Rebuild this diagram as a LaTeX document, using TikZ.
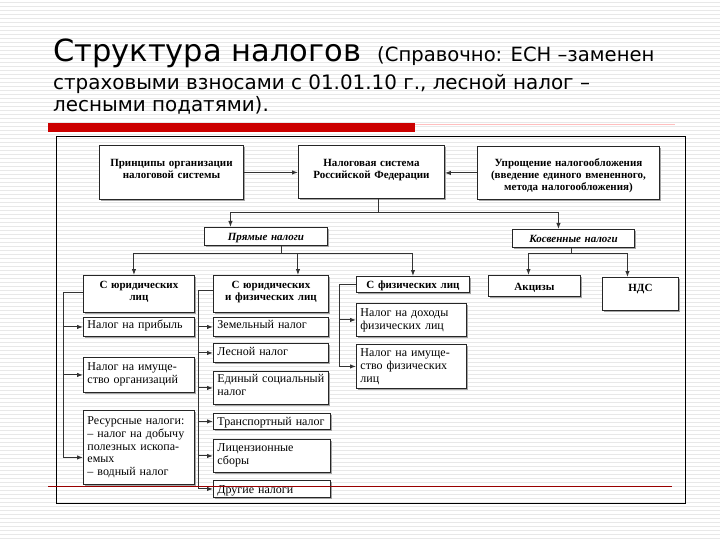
\documentclass[tikz,border=0pt]{standalone}
\usepackage{fontspec}
\setmainfont{Liberation Serif}
\newfontfamily\headfont{DejaVu Sans}
\usetikzlibrary{shadows,arrows.meta}

\begin{document}
\begin{tikzpicture}[x=1pt, y=-1pt, >={Latex[length=6pt,width=4.5pt]},
    stripe/.style={draw=black!9, line width=0.6pt},
    cell/.style={draw=black!85, line width=0.9pt, fill=white, anchor=north west,
      inner xsep=4pt, inner ysep=2pt,
      drop shadow={shadow xshift=1.3pt, shadow yshift=-1.3pt, fill=black!35, opacity=1}},
    head/.style={cell, align=center, font=\fontsize{11}{12}\selectfont\bfseries},
    leaf/.style={cell, align=left, font=\fontsize{12}{12.8}\selectfont},
    link/.style={draw=black!80, line width=1pt}]

    % ==== SLIDE ====
    \useasboundingbox (0,0) rectangle (720,540);
    \fill[white] (0,0) rectangle (720,540);
    \foreach \y in {2,6,...,538} \draw[stripe] (0,\y) -- (720,\y);

    % ==== TITLE ====
    \node[anchor=base west, inner sep=0, font=\headfont\fontsize{30.5}{30.5}\selectfont] (title) at (53,62) {Структура налогов};
    \node[anchor=base west, inner sep=0, font=\headfont\fontsize{19.6}{19.6}\selectfont] (note) at (377,62) {(Справочно: ЕСН –заменен};
    \node[anchor=base west, inner sep=0, font=\headfont\fontsize{19.9}{19.9}\selectfont] (note2) at (53,90) {страховыми взносами с 01.01.10 г., лесной налог –};
    \node[anchor=base west, inner sep=0, font=\headfont\fontsize{19.9}{19.9}\selectfont] (note3) at (53,112) {лесными податями).};
    \fill[red!80!black] (48,123) rectangle (415,132);
    \draw[red!25, line width=0.8pt] (415,124.5) -- (675,124.5);

    % ==== FRAME ====
    \draw[black, line width=1pt] (56,137) rectangle (685,503);

    % ==== TOP ROW ====
    \node[head, text width=136pt, text height=19pt, text depth=31pt] (prin) at (99,145) {Принципы организации\\налоговой системы};
    \node[head, text width=138pt, text height=19pt, text depth=30pt] (nalsys) at (298,145) {Налоговая система\\Российской Федерации};
    \node[head, text width=174pt, text height=18pt, text depth=31pt] (upr) at (477,146) {Упрощение налогообложения\\(введение единого вмененного,\\метода налогообложения)};

    % ==== DIRECT / INDIRECT ====
    \node[head, font=\fontsize{11}{12}\selectfont\bfseries\itshape, text width=115pt, text height=11pt, text depth=3pt] (pryam) at (204,227) {Прямые налоги};
    \node[head, font=\fontsize{11}{12}\selectfont\bfseries\itshape, text width=114pt, text height=11pt, text depth=3pt] (kosv) at (512,229) {Косвенные налоги};

    % ==== PAYERS ====
    \node[head, text width=103pt, text height=11pt, text depth=22pt] (yur) at (83,275) {С юридических\\лиц};
    \node[head, text width=107pt, text height=11pt, text depth=22pt] (yurfiz) at (213,275) {С юридических\\и физических лиц};
    \node[head, text width=105pt, text height=10pt, text depth=2pt] (fiz) at (356,276) {С физических лиц};
    \node[head, text width=84pt, text height=13pt, text depth=4pt] (akc) at (488,275) {Акцизы};
    \node[head, text width=68pt, text height=12pt, text depth=17pt] (nds) at (602,277) {НДС};

    % ==== LEGAL ENTITIES ====
    \node[leaf, text width=103pt, text height=9pt, text depth=6pt] (pribyl) at (83,317) {Налог на прибыль};
    \node[leaf, text width=103pt, text height=11pt, text depth=20pt] (imorg) at (83,357) {Налог на имуще-\\ство организаций};
    \node[leaf, text width=103pt, text height=12pt, text depth=58pt] (resurs) at (83,410) {Ресурсные налоги:\\– налог на добычу\\полезных ископа-\\емых\\– водный налог};

    % ==== LEGAL ENTITIES AND PERSONS ====
    \node[leaf, text width=107pt, text height=9pt, text depth=6pt] (zem) at (213,317) {Земельный налог};
    \node[leaf, text width=107pt, text height=10pt, text depth=5pt] (les) at (213,343) {Лесной налог};
    \node[leaf, text width=107pt, text height=9pt, text depth=20pt] (esn) at (213,371) {Единый социальный\\налог};
    \node[leaf, text width=109pt, text height=10pt, text depth=2pt] (trans) at (213,413) {Транспортный налог};
    \node[leaf, text width=109pt, text height=10pt, text depth=19pt] (lic) at (213,439) {Лицензионные\\сборы};
    \node[leaf, text width=109pt, text height=11pt, text depth=2pt] (drug) at (213,480) {Другие налоги};

    % ==== PERSONS ====
    \node[leaf, text width=102pt, text height=11pt, text depth=18pt] (dohfiz) at (356,303) {Налог на доходы\\физических лиц};
    \node[leaf, text width=102pt, text height=10pt, text depth=30pt] (imfiz) at (356,344) {Налог на имуще-\\ство физических\\лиц};

    % ==== CONNECTORS ====
    \draw[link,->] (prin.east) -- (prin.east -| nalsys.west);
    \draw[link,->] (upr.west) -- (upr.west -| nalsys.east);

    \draw[link] ([xshift=7pt]nalsys.south) -- ++(0,14) coordinate (topfork);
    \draw[link,->] (topfork) -| ([xshift=-35.5pt]pryam.north);
    \draw[link,->] (topfork) -| ([xshift=-15pt]kosv.north);

    \draw[link] ([xshift=16pt]pryam.south) -- ++(0,8) coordinate (pfork);
    \draw[link,->] (pfork) -| ([xshift=-5pt]yur.north);
    \draw[link,->] (pfork) -| ([xshift=27pt]yurfiz.north);
    \draw[link,->] (pfork) -| (fiz.north);

    \draw[link] ([xshift=-2pt]kosv.south) -- ++(0,6) coordinate (kfork);
    \draw[link,->] (kfork) -| ([xshift=-6pt]akc.north);
    \draw[link,->] (kfork) -| ([xshift=-13pt]nds.north);

    \draw[link] ([yshift=1.5pt]yur.west) -- ++(-20,0) coordinate (lbus);
    \draw[link,->] (lbus) |- (pribyl.west);
    \draw[link,->] (lbus) |- (imorg.west);
    \draw[link,->] (lbus) |- ([yshift=-10pt]resurs.west);

    \draw[link] ([yshift=3pt]yurfiz.west) -- ++(-15,0) coordinate (mbus);
    \foreach \n in {zem,les,esn,trans,lic,drug}
        \draw[link,->] (mbus) |- (\n.west);

    \draw[link] (fiz.west) -- ++(-17,0) coordinate (rbus);
    \draw[link,->] (rbus) |- (dohfiz.west);
    \draw[link,->] (rbus) |- (imfiz.west);

    % ==== TEMPLATE LINE ====
    \draw[red!60!black, line width=0.8pt] (48,486) -- (672,486);
\end{tikzpicture}
\end{document}
